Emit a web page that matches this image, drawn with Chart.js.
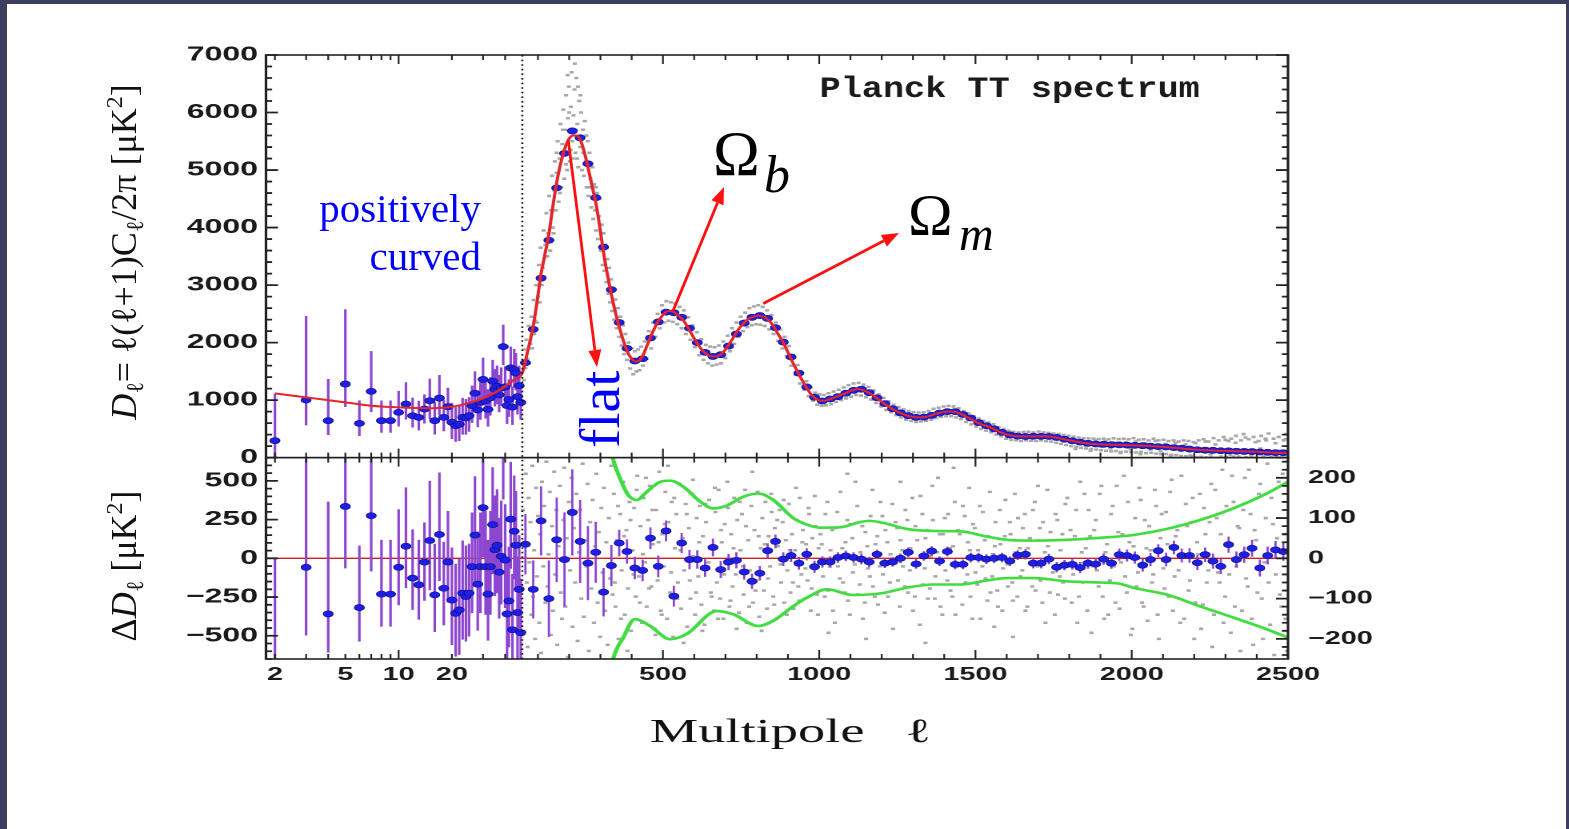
<!DOCTYPE html>
<html>
<head>
<meta charset="utf-8">
<script src="https://cdn.jsdelivr.net/npm/chart.js@4/dist/chart.umd.min.js"></script>
<style>
  html, body { margin: 0; padding: 0; }
  body { width: 1569px; height: 829px; background: #3b3e5f; position: relative; overflow: hidden; }
  #sheet { position: absolute; left: 7px; top: 4px; width: 1559px; height: 825px; background: #fff; }
  #plot { position: absolute; left: 0; top: 0; transform: scaleX(1.6); transform-origin: 0 0; }
  #notes { position: absolute; left: 0; top: 0; }
</style>
</head>
<body>
<div id="sheet"></div>
<canvas id="plot" width="980" height="829"></canvas>
<svg id="notes" width="1569" height="829" xmlns="http://www.w3.org/2000/svg" font-family="'Liberation Serif', 'Times New Roman', serif">
  <text transform="translate(136,252) rotate(-90)" text-anchor="middle" font-size="36" fill="#111"><tspan font-style="italic">D</tspan><tspan font-size="24" dy="7">ℓ</tspan><tspan dy="-7">= ℓ(ℓ+1)C</tspan><tspan font-size="24" dy="7">ℓ</tspan><tspan dy="-7">/2π [μK</tspan><tspan font-size="24" dy="-14">2</tspan><tspan dy="14">]</tspan></text>
  <text transform="translate(136,566) rotate(-90)" text-anchor="middle" font-size="36" fill="#111">Δ<tspan font-style="italic">D</tspan><tspan font-size="24" dy="7">ℓ</tspan><tspan dy="-7"> [μK</tspan><tspan font-size="24" dy="-14">2</tspan><tspan dy="14">]</tspan></text>
  <text x="481" y="222" text-anchor="end" font-size="41" fill="#0000ff">positively</text>
  <text x="481" y="270" text-anchor="end" font-size="41" fill="#0000ff">curved</text>
  <text transform="translate(619,448) rotate(-90)" font-size="58" fill="#0000ff">flat</text>
  <text x="713" y="175" font-size="63" fill="#000">Ω</text>
  <text x="764" y="192" font-size="52" font-style="italic" fill="#000">b</text>
  <text x="908" y="235" font-size="60" fill="#000">Ω</text>
  <text x="959" y="250" font-size="48" font-style="italic" fill="#000">m</text>
  <g id="arrows" stroke="#ff1010" fill="#ff1010" stroke-width="2.8"></g>
</svg>
<script>
// hybrid multipole axis: log from ELL_MIN to ELL_SPLIT, linear above
const ELL_MIN = 1.78, ELL_SPLIT = 50, ELL_MAX = 2500, LOG_FRAC = 0.2508;
const STRETCH = 1.6;

const xTickValues = [2,3,4,5,6,7,8,9,10,20,30,40,100,200,300,400,500,600,700,800,900,1000,1100,1200,1300,1400,1500,1600,1700,1800,1900,2000,2100,2200,2300,2400,2500];
const xTickLabels = [2,5,10,20,500,1000,1500,2000,2500];
const xMajorTicks = [10,500,1000,1500,2000,2500];

const steps = (from, to, by) => { const out = []; for (let v = from; v <= to + 1e-9; v += by) out.push(v); return out; };
const yUpperTicks = steps(0, 7000, 200);
const yResTicks = steps(-650, 650, 50);
const yResHighTicks = steps(-240, 240, 20);

// best-fit model curve
const modelEll = [2,3,4,5,7,10,15,20,25,30,35,40,45,50,
  65,83,97,108,121,134,146,158,170,183,197,212,224,236,248,260,273,287,300,313,326,338,351,364,376,388,400,412,424,437,450,462,475,487,500,512,525,538,551,565,578,592,608,624,640,656,670,684,700,715,730,742,757,773,790,806,822,838,852,866,886,900,914,928,942,958,974,990,1006,1022,1040,1060,1080,1100,1122,1142,1164,1190,1218,1250,1282,1305,1328,1350,1372,1396,1420,1445,1475,1510,1550,1580,1614,1646,1678,1710,1742,1775,1807,1840,1871,1903,1935,1968,2000,2064,2128,2192,2256,2320,2384,2449,2500];
const modelD = [1117,1048,1000,961,903,874,860,885,950,1030,1130,1240,1360,1480,
  1800,2235,2700,3130,3500,3850,4300,4720,5050,5320,5520,5600,5600,5520,5320,5050,4730,4380,3930,3460,3080,2760,2460,2200,1990,1820,1720,1670,1690,1790,1960,2120,2270,2390,2480,2540,2550,2520,2460,2390,2280,2150,2000,1880,1800,1760,1760,1790,1880,2000,2130,2235,2330,2410,2450,2470,2450,2390,2300,2170,1990,1830,1670,1520,1380,1230,1100,1020,990,995,1030,1070,1110,1160,1190,1170,1110,1010,900,800,730,705,700,720,760,790,805,780,700,600,520,440,385,370,370,372,365,330,295,262,240,230,225,220,215,200,175,145,125,115,104,88,80];

// low multipoles, one point per ell
const lowEll = [2,3,4,5,6,7,8,9,10,11,12,13,14,15,16,17,18,19,20,21,22,23,24,25,26,27,28,29,30,31,32,33,34,35,36,37,38,39,40,41,42,43,44,45,46,47,48,49];
const lowD = [295,1002,643,1280,596,1152,643,643,787,932,729,700,845,990,643,1036,700,886,615,556,580,700,690,730,905,1120,830,960,1360,990,840,1040,1330,1190,1240,1090,1210,1930,1230,905,1010,1560,880,1530,1470,1060,1250,960];
const lowRes = [-820,-58,-359,335,-318,275,-231,-231,-58,78,-128,-171,-24,115,-236,154,-193,-24,-270,-355,-333,-225,-247,-225,-54,150,-167,-54,327,-54,-231,-54,218,56,85,-89,13,700,-11,-359,-275,253,-461,175,85,-350,-200,-480];
const lowErrUp = [820,1460,725,1300,400,700,350,350,375,380,315,290,255,385,330,400,300,330,
  340,320,330,340,330,320,350,380,340,350,380,360,350,360,370,350,360,350,360,380,360,370,350,370,360,360,350,360,350,350];
const lowErrDn = [820,440,250,400,220,360,210,210,245,270,205,225,250,320,240,300,240,260,
  290,280,290,300,290,280,300,320,300,300,320,310,300,310,320,300,310,300,310,320,310,320,300,320,310,310,300,310,300,300];

// binned high multipoles
const binEll = [60,85,110,135,160,185,210,235,260,285,310,335,360,385,410,435,460,485,510,535,560,585,610,635,660,685,710,735,760,785,810,835,860,885,910,935,960,985,
  1010,1035,1060,1085,1110,1135,1160,1185,1210,1235,1260,1285,1310,1335,1360,1385,1410,1435,1460,1485,1510,1535,1560,1585,1610,1635,1660,1685,1710,1735,1760,1785,1810,1835,1860,1885,1910,1935,1960,
  1985,2010,2035,2060,2085,2110,2135,2160,2185,2210,2235,2260,2285,2310,2335,2360,2385,2410,2435,2460,2485];
const binD = [1650,2230,3120,3780,4690,5290,5680,5560,5110,4520,3660,2920,2350,1900,1680,1720,2080,2360,2530,2520,2440,2250,2000,1830,1760,1790,1940,2150,2340,2440,2470,2420,2260,2010,1750,1470,1230,1050,
  985,1020,1060,1120,1170,1190,1130,1040,940,850,780,730,700,705,735,775,800,800,750,690,610,555,500,440,395,375,368,372,370,368,350,320,292,270,250,238,232,226,222,
  218,214,208,200,192,185,175,165,150,138,130,128,120,118,112,108,106,98,93,88,85];
const binRes = [35,-77,93,-100,46,-3,114,42,-12,15,-84,-18,38,17,-24,-30,50,-20,68,-94,38,-3,-3,-24,27,-28,-9,-5,-34,-57,-37,19,42,-2,7,-12,10,-21,
  -9,-9,2,6,2,-2,-9,10,-12,-9,0,15,-14,6,18,-7,17,-15,-15,2,2,-2,0,2,-7,8,10,-12,-12,-2,-22,-17,-15,-23,-12,-14,-2,-12,9,
  7,2,-17,-3,19,-3,27,7,7,-11,9,-7,-20,34,-3,9,25,-24,7,21,17];
const binErr = [75,72,86,95,105,117,107,103,92,76,60,51,33,30,28,27,27,27,26,26,25,24,23,22,22,21,20,20,19,19,18,18,17,17,16,16,15,15,
  14,14,13,13,13,13,13,12,12,12,12,12,12,12,12,12,12,12,12,12,12,12,12,12,12,12,13,13,13,13,13,13,13,14,14,14,14,14,15,
  15,15,16,16,16,17,17,17,18,18,18,19,19,20,20,20,21,21,22,22,23];

// +-1 sigma envelope of unbinned residuals (right-hand scale)
const greenUpEll = [330,341,363,389,416,448,491,523,565,619,661,704,757,805,853,917,960,1002,1066,1130,1160,1205,1280,1365,1450,1536,1600,1685,1792,1898,2005,2112,2218,2325,2432,2500];
const greenUpVal = [290,245,198,157,145,165,190,193,178,141,124,131,153,161,145,100,84,76,77,90,93,88,73,68,67,54,46,44,46,51,58,73,95,124,161,190];
const greenLoEll = [330,341,373,410,459,523,576,672,725,805,853,917,960,1024,1109,1205,1280,1365,1450,1536,1600,1685,1792,1898,1962,2005,2112,2218,2325,2432,2500];
const greenLoVal = [-300,-250,-197,-151,-168,-201,-188,-131,-139,-168,-155,-119,-98,-77,-91,-86,-73,-65,-65,-55,-49,-49,-57,-60,-63,-73,-90,-119,-147,-176,-197];

// unbinned spectrum (grey)
const grayUpper = [[55,1350],[56,1880],[60,1560],[63,2050],[66,1720],[70,2290],[72,1640],[76,1980],[79,2450],[82,1900],[86,2740],[88,2150],[91,2380],[94,3000],[97,2350],[100,2800],[103,3350],[106,2700],[109,3650],[112,3000],[115,3300],[118,3950],[121,3150],[124,3700],[127,4250],[130,3500],[133,3900],[136,4550],[139,3600],[142,4300],[145,4900],[148,4000],[151,4650],[154,5150],[157,4300],[160,4950],[163,5500],[166,4450],[169,5200],[172,5800],[175,4700],[178,5450],[181,6050],[184,4850],[187,5700],[190,6300],[193,5000],[196,5900],[199,6450],[202,5150],[205,6100],[208,6700],[211,5200],[214,5950],[217,6400],[220,5300],[223,6600],[226,5800],[229,5050],[232,6200],[235,5400],[238,6000],[241,5000],[244,5700],[247,4900],[250,5850],[253,5150],[256,4700],[259,5500],[262,4550],[265,5300],[268,4850],[271,4350],[274,5050],[277,4150],[280,4750],[283,4300],[286,3950],[289,4600],[292,3800],[295,4200],[298,4500],[301,3600],[304,4050],[307,3350],[310,3900],[313,3250],[316,3700],[319,3050],[322,3450],[325,2850],[328,3300],[331,2700],[334,3100],[337,2550],[340,2900],[344,2400],[348,2750],[352,2250],[356,2600],[360,2100],[364,2450],[368,1950],[372,2300],[376,1800],[380,2150],[385,1700],[390,2000],[395,1550],[400,1900],[405,1450],[410,1850],[415,1500],[420,1880],[425,1520],[430,1930],[436,1600],[442,2020],[448,1720],[455,2200],[462,1900],[469,2350],[476,2100],[483,2500],[490,2250],[497,2650],[504,2350],[511,2720],[518,2380],[525,2700],[532,2360],[539,2680],[546,2320],[553,2620],[560,2250],[567,2560],[574,2150],[581,2440],[588,2050],[595,2300],[602,1920],[609,2180],[616,1780],[623,2060],[630,1700],[637,1960],[644,1640],[651,1930],[658,1600],[665,1920],[672,1620],[679,1950],[686,1640],[693,2020],[700,1730],[707,2120],[714,1850],[721,2250],[728,1980],[735,2350],[742,2100],[749,2450],[756,2200],[763,2520],[770,2270],[777,2600],[784,2300],[791,2630],[798,2320],[805,2650],[812,2310],[819,2620],[826,2290],[833,2560],[840,2230],[847,2480],[854,2150],[861,2350],[868,2030],[875,2230],[882,1900],[889,2100],[896,1760],[903,1940],[910,1600],[917,1780],[924,1440],[931,1610],[938,1290],[945,1470],[952,1180],[959,1330],[966,1070],[973,1220],[980,990],[987,1130],[994,920],[1001,1100],[1008,900],[1015,1090],[1022,910],[1030,1120],[1038,930],[1046,1150],[1054,970],[1062,1180],[1070,1000],[1078,1220],[1086,1030],[1094,1260],[1102,1060],[1110,1290],[1118,1090],[1126,1300],[1134,1080],[1142,1270],[1150,1050],[1158,1230],[1166,1010],[1174,1170],[1182,950],[1190,1100],[1198,890],[1206,1040],[1214,830],[1222,980],[1230,790],[1238,920],[1246,740],[1254,880],[1262,700],[1270,840],[1278,660],[1286,810],[1294,640],[1302,790],[1310,620],[1318,785],[1326,630],[1334,790],[1342,640],[1350,810],[1358,660],[1366,850],[1374,690],[1382,870],[1390,710],[1398,890],[1406,720],[1414,900],[1422,720],[1430,890],[1438,700],[1446,860],[1454,670],[1462,810],[1470,620],[1478,770],[1486,580],[1494,720],[1502,540],[1510,680],[1518,500],[1526,640],[1534,470],[1542,610],[1550,440],[1558,580],[1566,400],[1574,530],[1582,370],[1590,500],[1598,330],[1606,470],[1614,310],[1622,450],[1630,300],[1638,440],[1646,290],[1654,445],[1662,300],[1670,450],[1678,295],[1686,440],[1694,290],[1702,455],[1710,300],[1718,440],[1726,285],[1734,430],[1742,280],[1750,420],[1758,260],[1766,410],[1774,240],[1782,395],[1790,220],[1798,380],[1806,200],[1814,365],[1822,190],[1830,350],[1838,170],[1846,340],[1854,160],[1862,335],[1870,150],[1878,330],[1886,140],[1894,325],[1902,130],[1910,330],[1918,120],[1926,320],[1934,110],[1942,335],[1950,115],[1958,325],[1966,100],[1974,330],[1982,105],[1990,320],[1998,95],[2006,340],[2014,90],[2022,310],[2030,100],[2038,320],[2046,80],[2054,300],[2062,85],[2070,330],[2078,70],[2086,300],[2094,60],[2102,310],[2110,65],[2118,290],[2126,50],[2134,300],[2142,45],[2150,280],[2158,30],[2166,300],[2174,25],[2182,290],[2190,20],[2198,270],[2206,10],[2214,300],[2222,15],[2230,320],[2238,5],[2246,280],[2254,10],[2262,340],[2270,0],[2278,300],[2286,20],[2294,360],[2302,10],[2310,290],[2318,330],[2326,15],[2334,380],[2342,20],[2350,300],[2358,410],[2366,10],[2374,320],[2382,30],[2390,360],[2398,0],[2406,290],[2414,380],[2422,20],[2430,300],[2438,420],[2446,10],[2454,330],[2462,20],[2470,360],[2478,0],[2486,300],[2494,410]];
const grayUpperExtra = [[150,3900],[160,5300],[170,4600],[180,5700],[190,5100],[195,6650],[200,6000],[205,5350],[210,5500],[218,6850],[225,5200],[228,6450],[236,6300],[245,5300],[255,5600],[265,4700],[275,4500],[285,4700],
  [1804,280],[1820,150],[1836,300],[1852,210],[1868,120],[1884,300],[1900,190],[1916,290],[1932,160],[1948,260],[1964,80],[1980,270],[1996,150],[2012,280],[2028,60],[2044,250],[2060,140],[2076,290],[2092,110],[2108,240],[2124,20],[2140,260],[2156,120],[2172,230],[2188,40],[2204,250],[2220,100],[2236,280],[2252,60],[2268,230],[2284,140],[2300,310],[2316,50],[2332,260],[2348,130],[2364,350],[2380,80],[2396,270],[2412,160],[2428,330],[2444,60],[2460,250],[2476,120],[2492,320]];

const grayLower = [[52,120],[55,-180],[58,40],[61,210],[64,-60],[67,-220],[70,150],[73,-10],[76,90],[79,-140],[82,230],[85,-95],[88,20],[91,-200],[94,175],[97,-45],[100,105],[104,-160],[107,60],[110,-235],[113,190],[117,-20],[120,130],[124,-110],[127,240],[131,-70],[134,10],[138,165],[141,-190],[145,80],[148,-130],[152,215],[155,-40],[159,120],[162,-215],[166,30],[170,180],[173,-85],[177,-150],[181,95],[184,225],[188,-120],[192,50],[196,-245],[199,140],[203,-30],[207,200],[211,-170],[215,75],[219,-60],[223,160],[227,-205],[231,15],[235,120],[239,-100],[243,235],[247,-145],[251,45],[255,-20],[259,185],[263,-230],[267,90],[271,-75],[275,145],[279,-160],[283,30],[287,210],[291,-110],[295,65],[299,-195],[303,125],[307,-35],[311,175],[315,-130],[319,40],[323,-215],[327,100],[331,-50],[335,230],[339,-90],
  [343,160],[348,-120],[353,45],[358,-200],[363,110],[368,-30],[373,190],[378,-140],[383,70],[388,-75],[393,140],[398,-180],[403,20],[408,125],[413,-95],[418,205],[423,-45],[428,80],[433,-160],[438,150],[443,-10],[448,-120],[453,95],[458,180],[463,-70],[468,35],[473,-175],[478,120],[483,-55],[488,215],[493,-130],[498,60],[503,-20],[508,165],[513,-150],[518,90],[523,-85],[528,140],[533,-195],[538,25],[543,110],[548,-60],[553,185],[558,-125],[563,50],[568,-30],[573,135],[578,-170],[583,75],[588,-100],[593,160],[598,5],[603,-140],[608,100],[613,-45],[618,130],[623,-115],[628,55],[633,-165],[638,90],[643,-25],[648,145],[653,-85],[658,30],[663,-130],[668,115],[673,-60],[678,170],[683,-100],[688,40],[693,-150],[698,85],[703,-15],[708,125],[713,-120],[718,60],[723,-70],[728,150],[733,-40],[738,95],[743,-135],[748,20],[753,110],[758,-90],[763,170],[768,-160],[773,45],[778,-30],[783,130],[788,-110],[793,70],[798,-55],[803,165],[808,-145],[813,25],[818,100],[823,-80],[828,140],[833,-125],[838,55],[843,-20],[848,115],[853,-95],[858,75],[863,-150],[868,30],[873,120],[878,-60],[883,90],[888,-110],[893,45],[898,-30],[903,135],[908,-85],[913,60],[918,-125],[923,20],[928,95],[933,-70],[938,150],[943,-40],[948,70],[953,-100],[958,35],[963,-55],[968,110],[973,-130],[978,50],[983,-15],[988,80],[993,-90],[998,25],
  [1004,60],[1012,-45],[1020,110],[1028,-80],[1036,20],[1044,-130],[1052,75],[1060,-20],[1068,165],[1076,-60],[1084,40],[1092,-105],[1100,85],[1108,-35],[1116,190],[1124,-90],[1132,15],[1140,-150],[1148,65],[1156,-25],[1164,105],[1172,-70],[1180,35],[1188,-115],[1196,140],[1204,-40],[1212,70],[1220,-95],[1228,10],[1236,-175],[1244,90],[1252,-55],[1260,45],[1268,-20],[1276,120],[1284,-85],[1292,25],[1300,-130],[1308,80],[1316,-10],[1324,155],[1332,-65],[1340,50],[1348,-100],[1356,5],[1364,95],[1372,-45],[1380,200],[1388,-120],[1396,60],[1404,-30],[1412,110],[1420,-80],[1428,30],[1436,-140],[1444,70],[1452,-15],[1460,130],[1468,-60],[1476,40],[1484,-95],[1492,85],[1500,-35],[1508,20],[1516,-150],[1524,115],[1532,-50],[1540,55],[1548,-85],[1556,10],[1564,90],[1572,-120],[1580,35],[1588,-25],[1596,145],[1604,-70],[1612,60],[1620,-105],[1628,15],[1636,100],[1644,-45],[1652,75],[1660,-130],[1668,25],[1676,-10],[1684,120],[1692,-80],[1700,45],[1708,-55],[1716,90],[1724,-160],[1732,30],[1740,65],[1748,-35],[1756,110],[1764,-90],[1772,20],[1780,-60],[1788,135],[1796,-20],
  [1090,210],[1150,-200],[1260,190],[1340,-210],[1480,175],[1620,-195],[1700,180],[1030,-185],[1430,225],[1560,-170],
  [1804,70],[1813,-40],[1822,120],[1831,-95],[1840,15],[1849,160],[1858,-130],[1867,55],[1876,-20],[1885,95],[1894,-70],[1903,180],[1912,-150],[1921,35],[1930,-55],[1939,130],[1948,-110],[1957,65],[1966,-10],[1975,205],[1984,-85],[1993,40],[2002,-175],[2011,100],[2020,-35],[2029,145],[2038,-120],[2047,25],[2056,80],[2065,-60],[2074,170],[2083,-140],[2092,50],[2101,-25],[2110,115],[2119,-95],[2128,195],[2137,-45],[2146,70],[2155,-160],[2164,10],[2173,135],[2182,-80],[2191,90],[2200,-200],[2209,40],[2218,160],[2227,-115],[2236,60],[2245,-30],[2254,185],[2263,-140],[2272,100],[2281,-60],[2290,220],[2299,-95],[2308,30],[2317,-185],[2326,140],[2335,-20],[2344,75],[2353,-130],[2362,200],[2371,-70],[2380,110],[2389,-215],[2398,45],[2407,160],[2416,-100],[2425,-10],[2434,235],[2443,-165],[2452,85],[2461,-40],[2470,190],[2479,-120],[2488,60],[2497,-230]];
const grayLowerExtra = [[346,-60],[356,130],[366,-150],[376,55],[386,-230],[396,95],[406,-40],[416,170],[426,-110],[436,10],[446,200],[456,-75],[466,120],[476,-190],[486,40],[496,-140],[506,85],[516,230],[526,-35],[536,150],[546,-100],[556,20],[566,-210],[576,110],[586,-55],[596,195],[606,-85],[616,40],[626,-180],[636,135],[646,-10],[656,-95],[666,175],[676,-150],[686,70],[696,-40],[706,190],[716,-105],[726,25],[736,-175],[746,140],[756,-20],[766,80],[776,-120],[786,215],[796,-80],[806,55],[816,-180],[826,35],[836,-50],[846,160],[856,-115],[866,95],[876,-15],[886,145],[896,-140],[906,20],[916,-60],[926,175],[936,-105],[946,40],[956,-25],[966,125],[976,-75],[986,155],[996,-140],
  [1008,35],[1018,-95],[1026,140],[1034,-20],[1042,70],[1050,-160],[1058,115],[1066,-50],[1074,25],[1082,-85],[1090,95],[1098,-140],[1106,50],[1114,-15],[1122,130],[1130,-65],[1138,80],[1146,-110],[1154,30],[1162,-45],[1170,170],[1178,-95],[1186,55],[1194,-20],[1202,105],[1210,-135],[1218,40],[1226,-60],[1234,135],[1242,-10],[1250,75],[1258,-120],[1266,20],[1274,-70],[1282,95],[1290,-30],[1298,150],[1306,-95],[1314,45],[1322,-165],[1330,110],[1338,-25],[1346,70],[1354,-75],[1362,180],[1370,-100],[1378,15],[1386,60],[1394,-140],[1402,100],[1410,-55],[1418,25],[1426,-95],[1434,140],[1442,-20],[1450,60],[1458,-115],[1466,105],[1474,-40],[1482,20],[1490,-150],[1498,75],[1506,-65],[1514,130],[1522,-20],[1530,45],[1538,-105],[1546,165],[1554,-45],[1562,30],[1570,-80],[1578,120],[1586,-130],[1594,55],[1602,-15],[1610,90],[1618,-60],[1626,160],[1634,-95],[1642,25],[1650,-30],[1658,110],[1666,-120],[1674,50],[1682,-70],[1690,140],[1698,-20],[1706,75],[1714,-110],[1722,15],[1730,170],[1738,-85],[1746,45],[1754,-140],[1762,95],[1770,-45],[1778,60],[1786,-100],[1794,150],
  [1808,-110],[1818,55],[1826,-160],[1835,190],[1844,-60],[1853,25],[1862,120],[1871,-185],[1880,70],[1889,-30],[1898,160],[1907,-95],[1916,15],[1925,-140],[1934,110],[1943,-20],[1952,180],[1961,-125],[1970,60],[1979,-45],[1988,140],[1997,-190],[2006,30],[2015,-70],[2024,175],[2033,-110],[2042,95],[2051,-155],[2060,20],[2069,-40],[2078,130],[2087,-200],[2096,110],[2105,-75],[2114,35],[2123,165],[2132,-130],[2141,55],[2150,-30],[2159,205],[2168,-150],[2177,80],[2186,-55],[2195,150],[2204,-110],[2213,10],[2222,-175],[2231,125],[2240,-60],[2249,90],[2258,-220],[2267,170],[2276,-35],[2285,60],[2294,-160],[2303,130],[2312,-40],[2321,205],[2330,-120],[2339,80],[2348,-230],[2357,120],[2366,-50],[2375,220],[2384,-150],[2393,70],[2402,-85],[2411,185],[2420,-200],[2429,100],[2438,-60],[2447,150],[2456,-240],[2465,50],[2474,-90],[2483,210],[2492,-150]];

// red arrows from features to the labels (tips in page pixels)
const arrowNotes = [
  { ell: 197, d: 5520, tip: [597, 367] },
  { ell: 533, d: 2560, tip: [724, 187] },
  { ell: 821, d: 2680, tip: [899, 233] },
];

class HybridScale extends Chart.LinearScale {
  static id = 'hybrid';
  static defaults = Chart.LinearScale.defaults;
  buildTicks() {
    return xTickValues.map(v => ({ value: v }));
  }
  toDecimal(v) {
    if (v <= ELL_SPLIT) return LOG_FRAC * Math.log(v / this.min) / Math.log(ELL_SPLIT / this.min);
    return LOG_FRAC + (1 - LOG_FRAC) * (v - ELL_SPLIT) / (this.max - ELL_SPLIT);
  }
  getPixelForValue(value) {
    if (value === null || value === undefined || isNaN(value)) return NaN;
    return this.getPixelForDecimal(this.toDecimal(value));
  }
  getValueForPixel(pixel) {
    const d = this.getDecimalForPixel(pixel);
    if (d <= LOG_FRAC) return this.min * Math.pow(ELL_SPLIT / this.min, d / LOG_FRAC);
    return ELL_SPLIT + (d - LOG_FRAC) / (1 - LOG_FRAC) * (this.max - ELL_SPLIT);
  }
}
Chart.register(HybridScale);

const pts = (ell, val) => ell.map((l, i) => ({ x: l, y: val[i] }));
const pairs = list => list.map(([l, v]) => ({ x: l, y: v }));
const bars = (ell, val, up, dn) => ell.flatMap((l, i) => [{ x: l, y: val[i] - dn[i] }, { x: l, y: val[i] + up[i] }, { x: l, y: null }]);

const BLUE = '#1e1ee6', PURPLE = '#8d46cf', GREY = '#a8a8a8';
const TICK_FONT = { family: 'Liberation Sans', weight: 'bold', size: 18 };
const YTICK_FONT = { family: 'Liberation Sans', weight: 'bold', size: 20 };

const greyCloud = (data, yAxisID) => ({ data, yAxisID, pointStyle: 'rect', pointRadius: 1.8, backgroundColor: GREY, borderWidth: 0, order: 9 });
const errorBars = (data, yAxisID, width) => ({ data, yAxisID, showLine: true, spanGaps: false, pointRadius: 0, borderColor: PURPLE, borderWidth: width, order: 6 });
const dots = (data, yAxisID) => ({ data, yAxisID, pointRadius: 3.1, backgroundColor: BLUE, borderColor: '#12128c', borderWidth: 0.6, order: 3 });
const curve = (data, yAxisID, color, width, order) => ({ data, yAxisID, showLine: true, pointRadius: 0, borderColor: color, borderWidth: width, cubicInterpolationMode: 'monotone', order });

// keep each dataset inside its own panel
const panelClip = {
  id: 'panelClip',
  beforeDatasetDraw(chart, args) {
    const a = chart.chartArea, ys = args.meta.yScale;
    chart.ctx.save();
    chart.ctx.beginPath();
    chart.ctx.rect(a.left, ys.top, a.right - a.left, ys.bottom - ys.top);
    chart.ctx.clip();
  },
  afterDatasetDraw(chart) { chart.ctx.restore(); }
};

// boxed panels with inward ticks on every side, plus the l=50 divider
const frame = {
  id: 'frame',
  afterDatasetsDraw(chart) {
    const { ctx, chartArea: a, scales: { x, y, y2, y3 } } = chart;
    ctx.save();
    const xs = x.getPixelForValue(ELL_SPLIT);
    ctx.strokeStyle = '#1a1a1a';
    ctx.lineWidth = 1.3;
    ctx.setLineDash([1.6, 3]);
    ctx.beginPath(); ctx.moveTo(xs, a.top); ctx.lineTo(xs, a.bottom); ctx.stroke();
    ctx.setLineDash([]);

    ctx.fillStyle = '#1a1a1a';
    ctx.font = 'bold 22px "Liberation Mono"';
    ctx.save();
    ctx.translate(a.left + 346, 97);
    ctx.scale(1, 1.35);
    ctx.fillText('Planck TT spectrum', 0, 0);
    ctx.restore();

    ctx.strokeStyle = '#222';
    ctx.lineWidth = 1.6;
    ctx.strokeRect(a.left, y.top, a.right - a.left, y.bottom - y.top);
    ctx.strokeRect(a.left, y2.top, a.right - a.left, y2.bottom - y2.top);

    ctx.lineWidth = 1.1;
    ctx.beginPath();
    x.ticks.forEach(t => {
      const px = x.getPixelForValue(t.value);
      const len = xMajorTicks.includes(t.value) ? 9 : 5;
      ctx.moveTo(px, y.top); ctx.lineTo(px, y.top + len);
      ctx.moveTo(px, y.bottom - len); ctx.lineTo(px, y.bottom + len);
      ctx.moveTo(px, y2.bottom - len); ctx.lineTo(px, y2.bottom);
    });
    ctx.stroke();

    ctx.lineWidth = 1.8;
    ctx.beginPath();
    const yTicks = (scale, major, left, right) => scale.ticks.forEach(t => {
      const py = scale.getPixelForValue(t.value);
      const len = Math.abs(t.value % major) < 1e-6 ? 7.5 : 3.8;
      if (left) { ctx.moveTo(a.left, py); ctx.lineTo(a.left + len, py); }
      if (right) { ctx.moveTo(a.right - len, py); ctx.lineTo(a.right, py); }
    });
    yTicks(y, 1000, true, true);
    yTicks(y2, 250, true, false);
    yTicks(y3, 100, false, true);
    ctx.stroke();
    ctx.restore();
  }
};

// arrows live in the unstretched svg layer, anchored on the data scales
const arrows = {
  id: 'arrows',
  afterDraw(chart) {
    const { x, y } = chart.scales;
    const g = document.getElementById('arrows');
    g.innerHTML = '';
    arrowNotes.forEach(n => {
      const x0 = x.getPixelForValue(n.ell) * STRETCH, y0 = y.getPixelForValue(n.d);
      const [x1, y1] = n.tip;
      const len = Math.hypot(x1 - x0, y1 - y0), ux = (x1 - x0) / len, uy = (y1 - y0) / len;
      const head = 17, half = 6.5;
      const bx = x1 - ux * head, by = y1 - uy * head;
      g.innerHTML += `<line x1="${x0}" y1="${y0}" x2="${bx}" y2="${by}"/>` +
        `<polygon stroke="none" points="${x1},${y1} ${bx - uy * half},${by + ux * half} ${bx + uy * half},${by - ux * half}"/>`;
    });
  }
};

const minus = v => v < 0 ? '\u2212' + (-v) : String(v);

new Chart(document.getElementById('plot'), {
  type: 'scatter',
  data: {
    datasets: [
      greyCloud(pairs(grayUpper.concat(grayUpperExtra)), 'y'),
      greyCloud(pairs(grayLower.concat(grayLowerExtra)), 'y3'),
      errorBars(bars(lowEll, lowD, lowErrUp, lowErrDn), 'y', 1.6),
      errorBars(bars(lowEll, lowRes, lowErrUp, lowErrDn), 'y2', 1.6),
      errorBars(bars(binEll, binRes, binErr, binErr), 'y3', 1.4),
      curve([{ x: ELL_MIN, y: 0 }, { x: ELL_MAX, y: 0 }], 'y2', '#cc1f1f', 1.4, 7),
      curve(pts(greenUpEll, greenUpVal), 'y3', '#3fdd3f', 2.6, 4),
      curve(pts(greenLoEll, greenLoVal), 'y3', '#3fdd3f', 2.6, 4),
      dots(pts(lowEll, lowD), 'y'),
      dots(pts(binEll, binD), 'y'),
      dots(pts(lowEll, lowRes), 'y2'),
      dots(pts(binEll, binRes), 'y3'),
      curve(pts(modelEll, modelD), 'y', '#e3262b', 2, 1),
    ]
  },
  options: {
    responsive: false,
    devicePixelRatio: 2,
    animation: false,
    events: [],
    layout: { padding: { left: 106.25, right: 115, top: 55, bottom: 0 } },
    plugins: { legend: { display: false }, tooltip: { enabled: false } },
    scales: {
      x: {
        type: 'hybrid', position: 'bottom', min: ELL_MIN, max: ELL_MAX,
        grid: { display: false, drawTicks: false }, border: { display: false },
        ticks: { autoSkip: false, maxRotation: 0, minRotation: 0, padding: 5, font: TICK_FONT, color: '#1a1a1a',
          callback: v => xTickLabels.includes(v) ? String(v) : '' },
        title: { display: true, text: '  Multipole   ℓ', color: '#111', font: { family: 'Liberation Serif', size: 34 }, padding: { top: 0, bottom: 75.6 } },
        afterFit: s => { s.height = 170; }
      },
      y: {
        type: 'linear', position: 'left', stack: 'v', stackWeight: 2, weight: 2, min: 0, max: 7000, bounds: 'data',
        grid: { display: false, drawTicks: false }, border: { display: false },
        ticks: { autoSkip: false, padding: 5, font: YTICK_FONT, color: '#1a1a1a', callback: v => v % 1000 === 0 ? String(v) : '' },
        afterBuildTicks: s => { s.ticks = yUpperTicks.map(v => ({ value: v })); },
        afterFit: s => { s.width = 60; }
      },
      y2: {
        type: 'linear', position: 'left', stack: 'v', stackWeight: 1, weight: 1, min: -650, max: 650, bounds: 'data',
        grid: { display: false, drawTicks: false }, border: { display: false },
        ticks: { autoSkip: false, padding: 5, font: YTICK_FONT, color: '#1a1a1a', callback: v => v % 250 === 0 ? minus(v) : '' },
        afterBuildTicks: s => { s.ticks = yResTicks.map(v => ({ value: v })); },
        afterFit: s => { s.width = 60; }
      },
      y4: {
        type: 'linear', position: 'right', stack: 'r', stackWeight: 2, weight: 0, min: 0, max: 1, display: false
      },
      y3: {
        type: 'linear', position: 'right', stack: 'r', stackWeight: 1, weight: 1, min: -250, max: 250, bounds: 'data',
        grid: { display: false, drawTicks: false }, border: { display: false },
        ticks: { autoSkip: false, padding: 12.5, font: TICK_FONT, color: '#1a1a1a', callback: v => v % 100 === 0 ? minus(v) : '' },
        afterBuildTicks: s => { s.ticks = yResHighTicks.map(v => ({ value: v })); },
        afterFit: s => { s.width = 60; }
      }
    }
  },
  plugins: [panelClip, frame, arrows]
});
</script>
</body>
</html>
